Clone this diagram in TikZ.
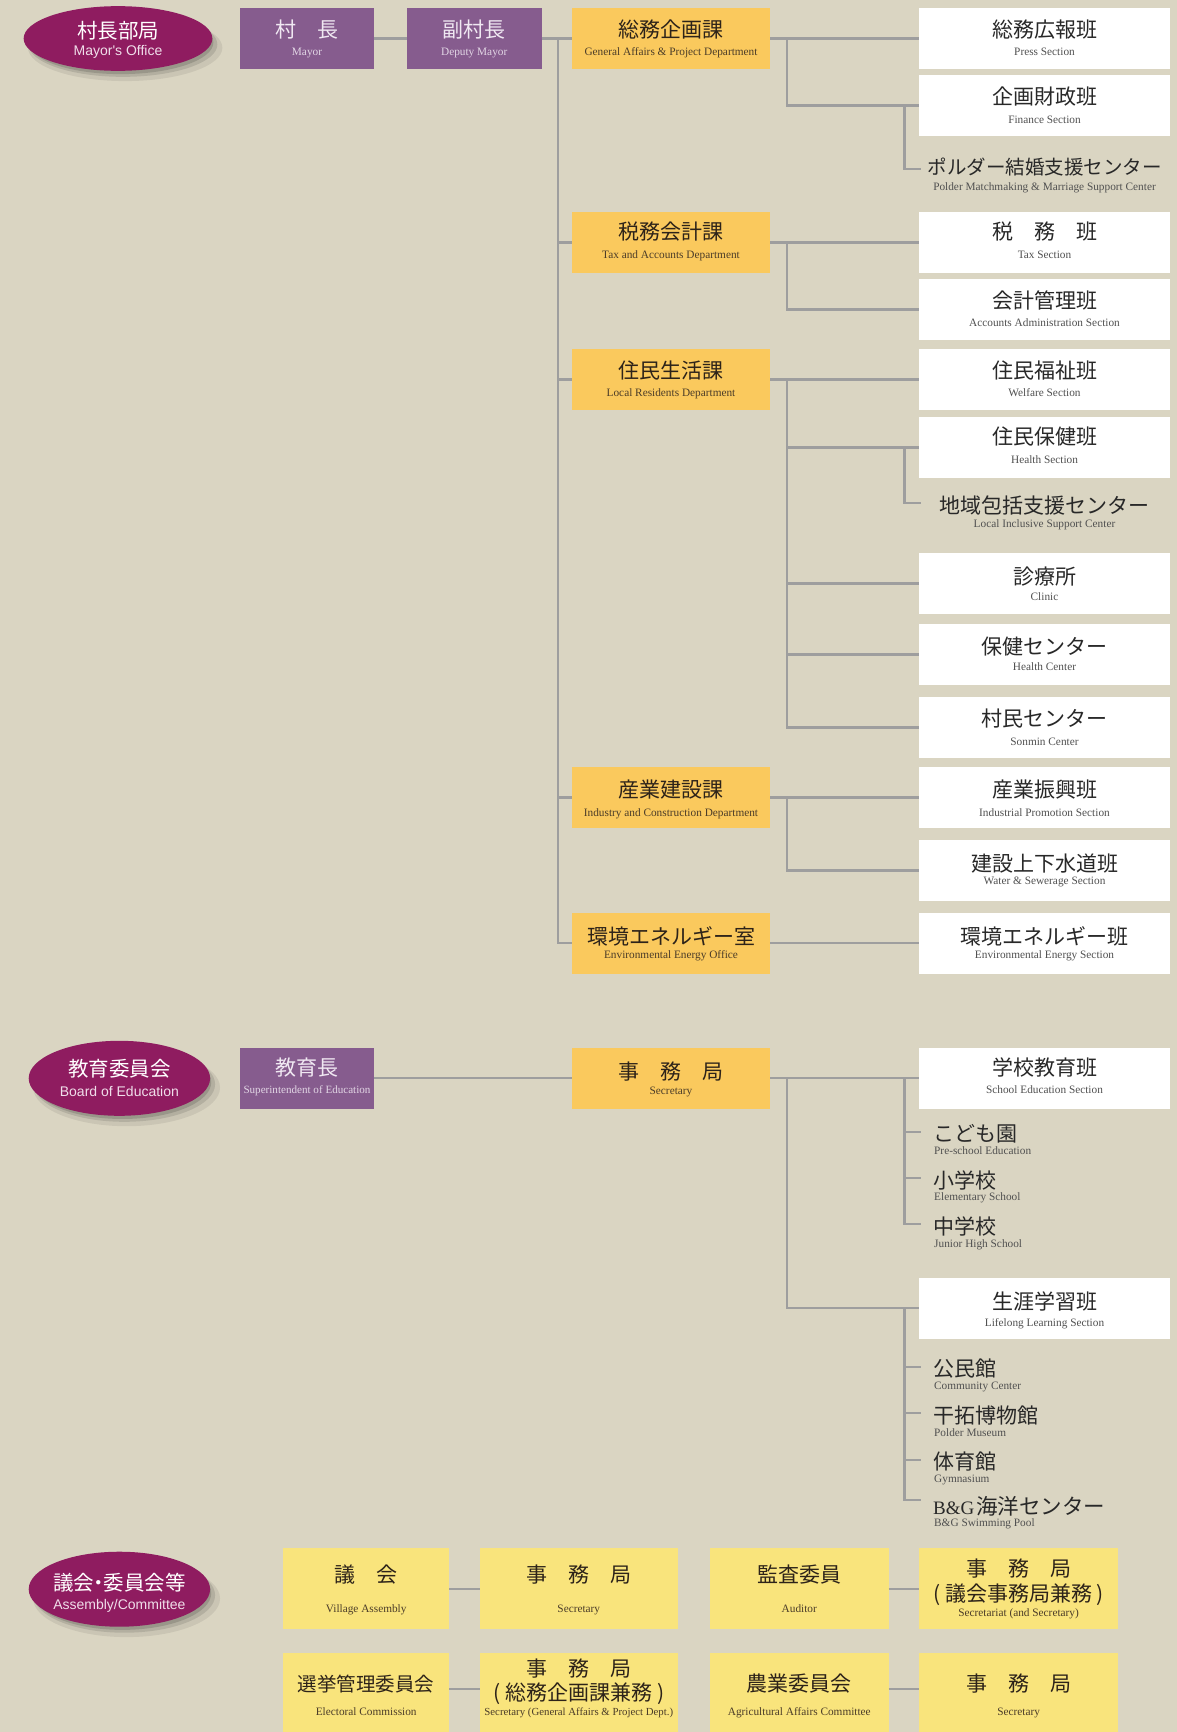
\documentclass[tikz,border=0pt]{standalone}
\usepackage{fontspec}
\setmainfont{Liberation Serif}
\newfontfamily\jpf{Noto Sans CJK JP}
\newfontfamily\sanf{Liberation Sans}
\usetikzlibrary{shapes.geometric,shadows}

\definecolor{bgc}{RGB}{218,213,194}
\definecolor{ellc}{RGB}{143,28,96}
\definecolor{ellt}{RGB}{240,222,234}
\definecolor{purc}{RGB}{134,92,142}
\definecolor{depc}{RGB}{250,201,93}
\definecolor{asmc}{RGB}{249,228,124}
\definecolor{linec}{RGB}{158,158,158}
\definecolor{jpdc}{RGB}{45,35,25}
\definecolor{endc}{RGB}{75,60,40}
\definecolor{jpsc}{RGB}{40,40,40}
\definecolor{ensc}{RGB}{80,80,80}
\definecolor{jppc}{RGB}{240,232,242}
\definecolor{enpc}{RGB}{226,214,229}

% box style, text kind, name, x, y, jp, en, jp baseline offset, en baseline offset
\newcommand\obox[9]{%
  \node[#1] (#3) at (#4,#5) {};
  \node[jptxt,jp-#2] (#3-j) at (#4,{#5+(#8)}) {#6};
  \node[entxt,en-#2] (#3-e) at (#4,{#5+(#9)}) {#7};
}
% list item: name, tick y, jp, en, jp baseline, en baseline
\newcommand\litem[6]{%
  \coordinate (#1) at (921,#2);
  \node[jptxt,jp-s,anchor=base west] (#1-j) at (933,#5) {#3};
  \node[entxt,en-s,anchor=base west] (#1-e) at (934,#6) {#4};
}

\begin{document}
\begin{tikzpicture}[x=1pt,y=-1pt,
  boxbase/.style={rectangle, inner sep=0pt, outer sep=0pt},
  purbox/.style={boxbase, fill=purc, minimum width=134.7pt, minimum height=61pt},
  depbox/.style={boxbase, fill=depc, minimum width=198pt, minimum height=61pt},
  secbox/.style={boxbase, fill=white, minimum width=251pt, minimum height=61pt},
  asmbox/.style={boxbase, fill=asmc, minimum height=81.3pt},
  asmboxb/.style={boxbase, fill=asmc, minimum height=79pt},
  jptxt/.style={inner sep=0pt, anchor=base, font=\jpf\fontsize{21}{21}\selectfont},
  entxt/.style={inner sep=0pt, anchor=base, font=\fontsize{11.3}{11.3}\selectfont},
  jp-p/.style={text=jppc}, en-p/.style={text=enpc},
  jp-d/.style={text=jpdc}, en-d/.style={text=endc},
  jp-s/.style={text=jpsc}, en-s/.style={text=ensc},
  jp-a/.style={text=jpdc}, en-a/.style={text=endc},
  conn/.style={draw=linec, line width=2.2pt},
  ell/.style={ellipse, fill=ellc, inner sep=0pt,
    general shadow={fill=black, opacity=0.07, shadow xshift=7pt, shadow yshift=-9pt, shadow scale=1.03},
    general shadow={fill=black, opacity=0.11, shadow xshift=5pt, shadow yshift=-6pt},
    general shadow={fill=black, opacity=0.14, shadow xshift=3pt, shadow yshift=-4pt, shadow scale=0.98}},
  ejp/.style={inner sep=0pt, anchor=base, text=white, font=\jpf\fontsize{20.5}{20.5}\selectfont},
  een/.style={inner sep=0pt, anchor=base, text=ellt, font=\sanf\fontsize{14}{14}\selectfont}
]
\useasboundingbox (0,0) rectangle (1176,1732);
\fill[bgc] (-5,-5) rectangle (1181,1737);

% ===== Mayor's Office =====
\node[ell, minimum width=188.7pt, minimum height=64.7pt] (mo) at (118,38.5) {};
\node[ejp] (mo-j) at (118,38.8) {村長部局};
\node[een] (mo-e) at (118,55) {Mayor's Office};

\obox{purbox}{p}{mayor}{307}{38.5}{村　長}{Mayor}{-1.3}{16.5}
\obox{purbox}{p}{vmayor}{474.2}{38.5}{副村長}{Deputy Mayor}{-1.3}{16.5}

\obox{depbox}{d}{d1}{671}{38.5}{総務企画課}{General Affairs \& Project Department}{-1.3}{16.5}
\obox{depbox}{d}{d2}{671}{242.5}{税務会計課}{Tax and Accounts Department}{-2.8}{15.8}
\obox{depbox}{d}{d3}{671}{379.5}{住民生活課}{Local Residents Department}{-1.5}{17.2}
\obox{depbox}{d}{d4}{671}{797.5}{産業建設課}{Industry and Construction Department}{0}{18.5}
\obox{depbox}{d}{d5}{671}{943}{環境エネルギー室}{Environmental Energy Office}{1.5}{15.5}

\obox{secbox}{s}{s11}{1044.5}{38.5}{総務広報班}{Press Section}{-1.3}{16.5}
\obox{secbox}{s}{s12}{1044.5}{105.5}{企画財政班}{Finance Section}{-0.8}{17.8}
\node[jptxt,jp-s,font=\jpf\fontsize{19.5}{19.5}\selectfont] (s13-j) at (1044.5,174) {ポルダー結婚支援センター};
\node[entxt,en-s] (s13-e) at (1044.5,190) {Polder Matchmaking \& Marriage Support Center};
\coordinate (s13) at (921,169);
\obox{secbox}{s}{s21}{1044.5}{242.5}{税　務　班}{Tax Section}{-2.8}{15.8}
\obox{secbox}{s}{s22}{1044.5}{309.5}{会計管理班}{Accounts Administration Section}{-1.2}{16.5}
\obox{secbox}{s}{s31}{1044.5}{379.5}{住民福祉班}{Welfare Section}{-1.5}{17.2}
\obox{secbox}{s}{s32}{1044.5}{447.5}{住民保健班}{Health Section}{-2.8}{15.8}
\node[jptxt,jp-s] (s33-j) at (1044.5,513) {地域包括支援センター};
\node[entxt,en-s] (s33-e) at (1044.5,527) {Local Inclusive Support Center};
\coordinate (s33) at (921,503.3);
\obox{secbox}{s}{s34}{1044.5}{583.5}{診療所}{Clinic}{1.2}{16.5}
\obox{secbox}{s}{s35}{1044.5}{654.5}{保健センター}{Health Center}{0.2}{15.5}
\obox{secbox}{s}{s36}{1044.5}{727.5}{村民センター}{Sonmin Center}{-1.2}{18.2}
\obox{secbox}{s}{s41}{1044.5}{797.5}{産業振興班}{Industrial Promotion Section}{-0.3}{19}
\obox{secbox}{s}{s42}{1044.5}{870.5}{建設上下水道班}{Water \& Sewerage Section}{0.8}{13.5}
\obox{secbox}{s}{s51}{1044.5}{943}{環境エネルギー班}{Environmental Energy Section}{1.5}{15.5}

\coordinate (tk) at (558,0);
\coordinate (br) at (787,0);
\coordinate (bs) at (904.5,0);

\draw[conn] (mayor.east) -- (vmayor.west);
\draw[conn] (vmayor.east) -- (d1.west);
\draw[conn] (tk |- d1.west) |- (d5.west);
\foreach \d in {d2,d3,d4} \draw[conn] (tk |- \d.west) -- (\d.west);

\draw[conn] (d1.east) -- (s11.west);
\draw[conn] (br |- d1.east) |- (s12.west);
\draw[conn] (bs |- s12.west) |- (s13);
\draw[conn] (d2.east) -- (s21.west);
\draw[conn] (br |- d2.east) |- (s22.west);
\draw[conn] (d3.east) -- (s31.west);
\draw[conn] (br |- d3.east) |- (s36.west);
\foreach \s in {s32,s34,s35} \draw[conn] (br |- \s.west) -- (\s.west);
\draw[conn] (bs |- s32.west) |- (s33);
\draw[conn] (d4.east) -- (s41.west);
\draw[conn] (br |- d4.east) |- (s42.west);
\draw[conn] (d5.east) -- (s51.west);

% ===== Board of Education =====
\node[ell, minimum width=181.4pt, minimum height=75pt] (be) at (119.4,1078.3) {};
\node[ejp] (be-j) at (119.4,1076.3) {教育委員会};
\node[een] (be-e) at (119.4,1096) {Board of Education};

\obox{purbox}{p}{sup}{307}{1078.3}{教育長}{\fontsize{11.1}{11.1}\selectfont Superintendent of Education}{-2.8}{15}
\obox{depbox}{d}{esec}{671}{1078}{事　務　局}{Secretary}{1}{16.5}
\obox{secbox}{s}{sch}{1044.5}{1078}{学校教育班}{School Education Section}{-2.2}{15.3}
\obox{secbox}{s}{life}{1044.5}{1308.3}{生涯学習班}{Lifelong Learning Section}{1.4}{17.7}

\litem{kg}{1131.7}{こども園}{Pre-school Education}{1141.5}{1154}
\litem{es}{1178}{小学校}{Elementary School}{1188.7}{1200.7}
\litem{jh}{1224}{中学校}{Junior High School}{1234.7}{1247.3}
\litem{cc}{1366.7}{公民館}{Community Center}{1376.5}{1389.3}
\litem{pm}{1413}{干拓博物館}{Polder Museum}{1423}{1436}
\litem{gy}{1460}{体育館}{Gymnasium}{1469.8}{1482.5}
\litem{bg}{1500}{{\rmfamily\fontsize{19}{19}\selectfont B\&G}\kern2pt{\fontsize{21.5}{21.5}\selectfont 海洋センター}}{B\&G Swimming Pool}{1514}{1526.7}

\draw[conn] (sup.east) -- (sup.east -| esec.west);
\draw[conn] (esec.east) -- (sch.west);
\draw[conn] (br |- esec.east) |- (life.west);
\draw[conn] (bs |- sch.west) |- (jh);
\foreach \c in {kg,es} \draw[conn] (bs |- \c) -- (\c);
\draw[conn] (bs |- life.west) |- (bg);
\foreach \c in {cc,pm,gy} \draw[conn] (bs |- \c) -- (\c);

% ===== Assembly / Committee =====
\node[ell, minimum width=181.4pt, minimum height=75pt] (ac) at (119.4,1589.2) {};
\node[ejp] (ac-j) at (119.4,1590) {議会\kern-5.5pt・\kern-5.5pt委員会等};
\node[een] (ac-e) at (119.4,1609) {Assembly/Committee};

\obox{asmbox,minimum width=166.3pt}{a}{a1}{366.2}{1588.7}{議　会}{Village Assembly}{-6}{23.6}
\obox{asmbox,minimum width=198.5pt}{a}{a2}{578.8}{1588.7}{事　務　局}{Secretary}{-6}{23.6}
\obox{asmbox,minimum width=178.6pt}{a}{a3}{799.3}{1588.7}{監査委員}{Auditor}{-6}{24}
\obox{asmbox,minimum width=198.4pt}{a}{a4}{1018.6}{1588.7}{事　務　局}{Secretariat (and Secretary)}{-12}{27.5}
\node[jptxt,jp-a] (a4-k) at (1018.6,1601.3) {( 議会事務局兼務 )};

\obox{asmboxb,minimum width=166.3pt}{a}{b1}{366.2}{1692.5}{{\fontsize{19.5}{19.5}\selectfont 選挙管理委員会}}{Electoral Commission}{-1.3}{23.2}
\obox{asmboxb,minimum width=198.5pt}{a}{b2}{578.8}{1692.5}{事　務　局}{\fontsize{10.8}{10.8}\selectfont Secretary (General Affairs \& Project Dept.)}{-16.2}{23}
\node[jptxt,jp-a] (b2-k) at (578.8,1700.5) {( 総務企画課兼務 )};
\obox{asmboxb,minimum width=178.6pt}{a}{b3}{799.3}{1692.5}{農業委員会}{Agricultural Affairs Committee}{-0.7}{23.2}
\obox{asmboxb,minimum width=198.4pt}{a}{b4}{1018.6}{1692.5}{事　務　局}{Secretary}{-0.7}{23.2}

\draw[conn] (a1.east) -- (a2.west);
\draw[conn] (a3.east) -- (a4.west);
\draw[conn] ([yshift=3.5pt]b1.east) -- ([yshift=3.5pt]b2.west);
\draw[conn] ([yshift=3.5pt]b3.east) -- ([yshift=3.5pt]b4.west);
\end{tikzpicture}
\end{document}
